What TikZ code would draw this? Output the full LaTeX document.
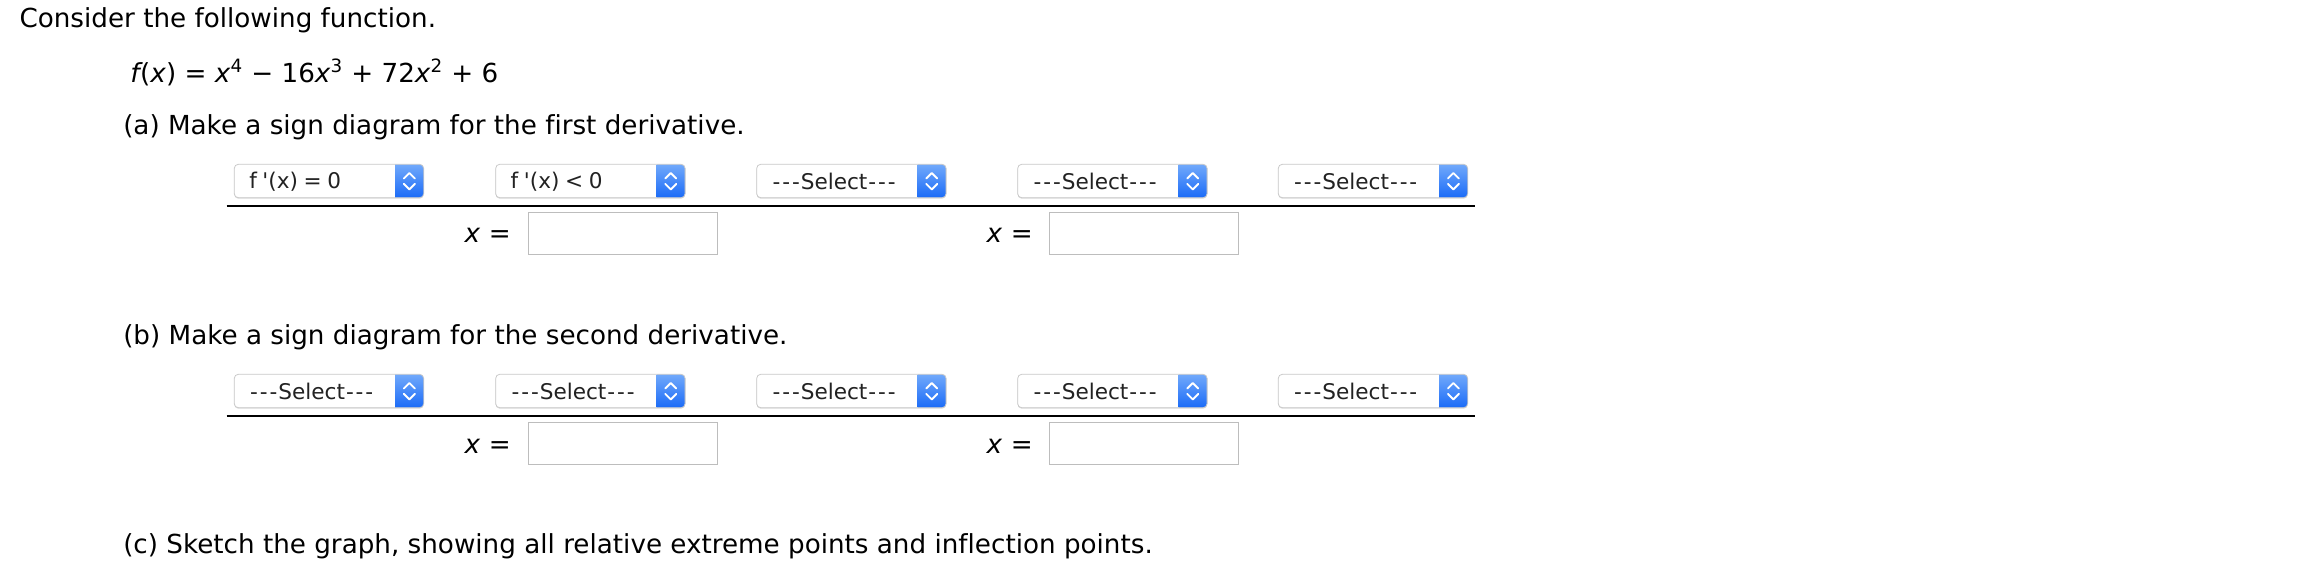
\documentclass[tikz,border=0pt]{standalone}
\usepackage{fontspec}
\setmainfont{DejaVu Sans}[Ligatures={TeX,NoCommon}]
\newfontfamily\ddfont{DejaVu Sans}[WordSpace=0.82]
\definecolor{ddtop}{HTML}{71A9FB}
\definecolor{ddbot}{HTML}{1B6BF7}
\definecolor{ddborder}{HTML}{C9C9C9}
\definecolor{ddshadow}{HTML}{DCDCDC}
\definecolor{ddtext}{HTML}{222222}
\definecolor{inborder}{HTML}{BDBDBD}
\newcommand\ddh{\makebox[0.45em]{-}}
\newcommand\selecttxt{\ddh\ddh\ddh Select\ddh\ddh\ddh}
\newcommand\ddbox[4]{%
  \fill[ddshadow,rounded corners=3] (#2,#3+1) rectangle ++(189.4,33.4);
  \begin{scope}
    \clip[rounded corners=3] (#2,#3) rectangle ++(189.4,33.4);
    \fill[white] (#2,#3) rectangle ++(189.4,33.4);
    \shade[top color=ddtop,bottom color=ddbot] (#2+160.9,#3) rectangle ++(28.5,33.4);
  \end{scope}
  \draw[ddborder,line width=0.6pt,rounded corners=3] (#2,#3) rectangle ++(189.4,33.4);
  \node[ddlabel] (#1) at (#2+14.7,#3+17.2) {#4};
  \draw[chev] (#2+169.6,#3+14.2) -- (#2+175.1,#3+8.7) -- (#2+180.6,#3+14.2);
  \draw[chev] (#2+169.6,#3+19.6) -- (#2+175.1,#3+25.1) -- (#2+180.6,#3+19.6);
}
\begin{document}
\begin{tikzpicture}[x=0.75pt,y=-0.75pt,
  maintext/.style={inner sep=0pt,anchor=base west,font=\fontsize{19.65}{23}\selectfont,text=black},
  ddlabel/.style={inner sep=0pt,anchor=west,font=\ddfont\fontsize{16.2}{20}\selectfont,text=ddtext},
  chev/.style={white,line width=1.4pt,line cap=round,line join=round},
  inbox/.style={draw=inborder,line width=0.75pt,fill=white,minimum width=141.75pt,minimum height=31.95pt,anchor=north west,inner sep=0pt},
  xlabel/.style={inner sep=0pt,anchor=base east,font=\fontsize{19.65}{23}\selectfont},
  axis/.style={black,line width=1.6pt}]
\useasboundingbox (0,0) rectangle (2306,574);
\node[maintext] (intro) at (19.3,27.5) {Consider the following function.};
\node[maintext] (func) at (130,83) {\textit{f}\kern-0.1em(\textit{x}) = \textit{x}\textsuperscript{4} − 16\textit{x}\textsuperscript{3} + 72\textit{x}\textsuperscript{2} + 6};
\node[maintext] (parta) at (123,134.3) {(a) Make a sign diagram for the first derivative.};
\node[maintext] (partb) at (123,344.3) {(b) Make a sign diagram for the second derivative.};
\node[maintext] (partc) at (123,553.3) {(c) Sketch the graph, showing all relative extreme points and inflection points.};
% row a
\ddbox{a1}{234.3}{164.3}{f '(x) = 0}
\ddbox{a2}{495.7}{164.3}{f '(x) < 0}
\ddbox{a3}{756.7}{164.3}{\selecttxt}
\ddbox{a4}{1017.7}{164.3}{\selecttxt}
\ddbox{a5}{1278.3}{164.3}{\selecttxt}
\coordinate (al) at (226.7,205.7);
\coordinate (ar) at (1475,205.7);
\draw[axis] (al) -- (ar);
\node[xlabel] (xa1) at (511,243) {\textit{x} =};
\node[inbox] (ina1) at (527.7,211.7) {};
\node[xlabel] (xa2) at (1033,243) {\textit{x} =};
\node[inbox] (ina2) at (1049.3,211.7) {};
% row b
\ddbox{b1}{234.3}{374.3}{\selecttxt}
\ddbox{b2}{495.7}{374.3}{\selecttxt}
\ddbox{b3}{756.7}{374.3}{\selecttxt}
\ddbox{b4}{1017.7}{374.3}{\selecttxt}
\ddbox{b5}{1278.3}{374.3}{\selecttxt}
\coordinate (bl) at (226.7,415.7);
\coordinate (br) at (1475,415.7);
\draw[axis] (bl) -- (br);
\node[xlabel] (xb1) at (511,453) {\textit{x} =};
\node[inbox] (inb1) at (527.7,421.7) {};
\node[xlabel] (xb2) at (1033,453) {\textit{x} =};
\node[inbox] (inb2) at (1049.3,421.7) {};
\end{tikzpicture}
\end{document}
